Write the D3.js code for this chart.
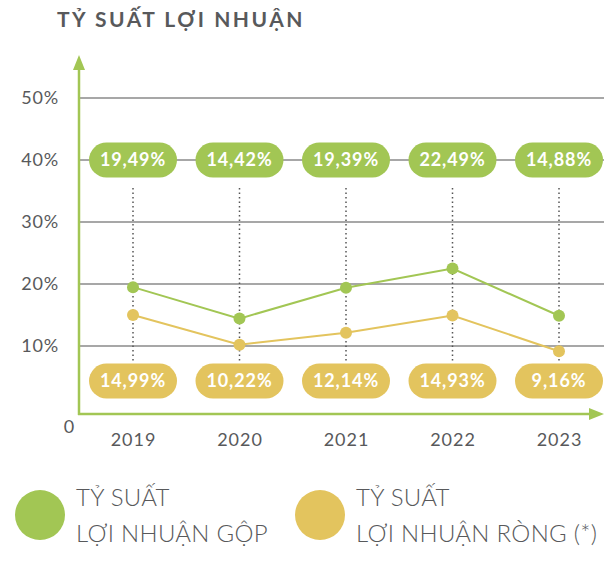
<!DOCTYPE html>
<html>
<head>
<meta charset="utf-8">
<script src="https://cdn.jsdelivr.net/npm/d3@7"></script>
<style>
  body { margin: 0; background: #fff; }
  svg { display: block; font-family: Lato, "Noto Sans", sans-serif; }
</style>
</head>
<body>
<div id="chart"></div>
<script>
// data
var years = ["2019", "2020", "2021", "2022", "2023"];
var grossMargin = [19.49, 14.42, 19.39, 22.49, 14.88];
var netMargin = [14.99, 10.22, 12.14, 14.93, 9.16];
var grossLabels = ["19,49%", "14,42%", "19,39%", "22,49%", "14,88%"];
var netLabels = ["14,99%", "10,22%", "12,14%", "14,93%", "9,16%"];
var yTicks = [10, 20, 30, 40, 50];
var legendLabels = [["TỶ SUẤT", "LỢI NHUẬN GỘP"], ["TỶ SUẤT", "LỢI NHUẬN RÒNG (*)"]];

var w = 615;
var h = 571;
var green = "#a2c654";
var gold = "#e3c45e";
var textGrey = "#58595b";

var svg = d3.select("#chart")
    .append("svg")
    .attr("width", w)
    .attr("height", h);

//scales
var xScale = d3.scalePoint()
    .domain(years)
    .range([133, 559]);

var yScale = d3.scaleLinear()
    .domain([0, 50])
    .range([408, 98]);

var axisX0 = 79;
var axisY0 = 414;
var axisRight = 604;

//title
svg.append("text")
    .attr("x", 57)
    .attr("y", 27)
    .attr("fill", textGrey)
    .attr("font-size", 21)
    .attr("font-weight", 700)
    .attr("letter-spacing", 2.5)
    .text("TỶ SUẤT LỢI NHUẬN");

//gridlines
svg.append("g")
    .selectAll("line")
    .data(yTicks)
    .enter()
    .append("line")
    .attr("x1", axisX0)
    .attr("x2", axisRight)
    .attr("y1", function(d) { return yScale(d); })
    .attr("y2", function(d) { return yScale(d); })
    .attr("stroke", "#8a8a8a")
    .attr("stroke-width", 1.5);

//y tick labels
var yAxis = d3.axisLeft(yScale)
    .tickValues(yTicks)
    .tickSize(0)
    .tickPadding(0)
    .tickFormat(function(d) { return d + "%"; });

var yg = svg.append("g")
    .attr("transform", "translate(59,0)")
    .call(yAxis);
yg.select(".domain").remove();
yg.selectAll("text")
    .attr("fill", textGrey)
    .attr("font-size", 18)
    .attr("letter-spacing", 0.8)
    .attr("font-family", "Lato, 'Noto Sans', sans-serif");

svg.append("text")
    .attr("x", 69)
    .attr("y", 427)
    .attr("dy", "0.35em")
    .attr("text-anchor", "middle")
    .attr("fill", textGrey)
    .attr("font-size", 18)
    .text("0");

//x axis labels
var xAxis = d3.axisBottom(xScale)
    .tickSize(0)
    .tickPadding(0);

var xg = svg.append("g")
    .attr("transform", "translate(0,440)")
    .call(xAxis);
xg.select(".domain").remove();
xg.selectAll("text")
    .attr("dy", "0.35em")
    .attr("fill", textGrey)
    .attr("font-size", 18)
    .attr("letter-spacing", 1)
    .attr("font-family", "Lato, 'Noto Sans', sans-serif");

//dotted drop lines
svg.append("g")
    .selectAll("line")
    .data(years)
    .enter()
    .append("line")
    .attr("x1", function(d) { return xScale(d); })
    .attr("x2", function(d) { return xScale(d); })
    .attr("y1", 188)
    .attr("y2", 362)
    .attr("stroke", "#555")
    .attr("stroke-width", 1.5)
    .attr("stroke-dasharray", "1.5,3");

//axes with arrows
svg.append("line")
    .attr("x1", axisX0).attr("y1", axisY0 + 1)
    .attr("x2", axisX0).attr("y2", 64)
    .attr("stroke", green)
    .attr("stroke-width", 2.5);
svg.append("path")
    .attr("d", "M" + axisX0 + ",55 L" + (axisX0 - 6) + ",70 L" + (axisX0 + 6) + ",70 Z")
    .attr("fill", green);

svg.append("line")
    .attr("x1", axisX0 - 1).attr("y1", axisY0)
    .attr("x2", axisRight - 8).attr("y2", axisY0)
    .attr("stroke", green)
    .attr("stroke-width", 2.5);
svg.append("path")
    .attr("d", "M" + axisRight + "," + axisY0 + " L" + (axisRight - 15) + "," + (axisY0 - 6) + " L" + (axisRight - 15) + "," + (axisY0 + 6) + " Z")
    .attr("fill", green);

//lines
var line = d3.line()
    .x(function(d, i) { return xScale(years[i]); })
    .y(function(d) { return yScale(d); });

svg.append("path")
    .datum(netMargin)
    .attr("d", line)
    .attr("fill", "none")
    .attr("stroke", gold)
    .attr("stroke-width", 2);

svg.append("path")
    .datum(grossMargin)
    .attr("d", line)
    .attr("fill", "none")
    .attr("stroke", green)
    .attr("stroke-width", 2);

//points
function drawPoints(values, colour) {
    svg.append("g")
        .selectAll("circle")
        .data(values)
        .enter()
        .append("circle")
        .attr("cx", function(d, i) { return xScale(years[i]); })
        .attr("cy", function(d) { return yScale(d); })
        .attr("r", 6)
        .attr("fill", colour);
}
drawPoints(netMargin, gold);
drawPoints(grossMargin, green);

//value pills
function drawPills(labels, colour, cy) {
    var g = svg.append("g")
        .selectAll("g")
        .data(labels)
        .enter()
        .append("g")
        .attr("transform", function(d, i) { return "translate(" + xScale(years[i]) + "," + cy + ")"; });
    g.append("rect")
        .attr("x", -44)
        .attr("y", -17.5)
        .attr("width", 88)
        .attr("height", 35)
        .attr("rx", 17.5)
        .attr("fill", colour);
    g.append("text")
        .attr("text-anchor", "middle")
        .attr("dy", "0.36em")
        .attr("fill", "#fff")
        .attr("font-size", 18)
        .attr("font-weight", 700)
        .attr("letter-spacing", 0.9)
        .text(function(d) { return d; });
}
drawPills(grossLabels, green, yScale(40));
drawPills(netLabels, gold, 381);

//legend
var legend = svg.append("g")
    .selectAll("g")
    .data(legendLabels)
    .enter()
    .append("g")
    .attr("transform", function(d, i) { return "translate(" + (i === 0 ? 40 : 320) + ",515)"; });

legend.append("circle")
    .attr("r", 25)
    .attr("fill", function(d, i) { return i === 0 ? green : gold; });

legend.each(function(d) {
    var t = d3.select(this);
    t.append("text")
        .attr("x", 36)
        .attr("y", -9)
        .attr("fill", textGrey)
        .attr("font-size", 24)
        .attr("font-weight", 300)
        .attr("letter-spacing", 0.3)
        .text(d[0]);
    t.append("text")
        .attr("x", 36)
        .attr("y", 27)
        .attr("fill", textGrey)
        .attr("font-size", 24)
        .attr("font-weight", 300)
        .attr("letter-spacing", 0.3)
        .text(d[1]);
});
</script>
</body>
</html>
